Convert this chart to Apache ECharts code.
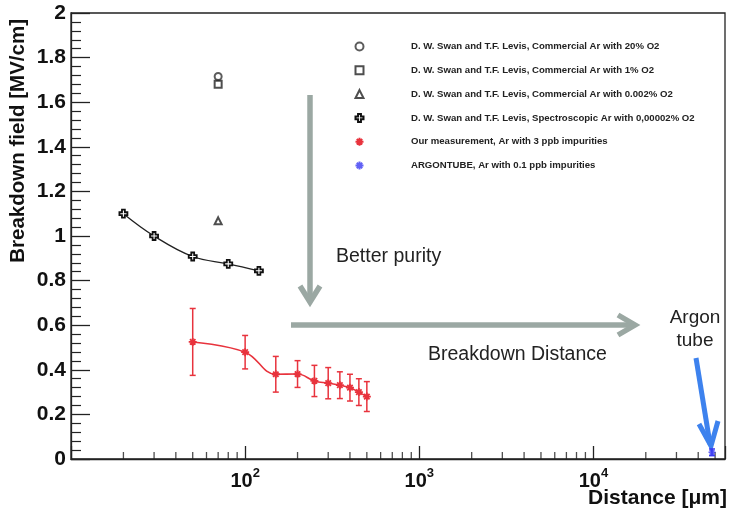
<!DOCTYPE html>
<html>
<head>
<meta charset="utf-8">
<script src="https://cdn.jsdelivr.net/npm/echarts@6/dist/echarts.min.js"></script>
<style>
html,body{margin:0;padding:0;background:#fff;}
#c{width:730px;height:515px;}
</style>
</head>
<body>
<div id="c"></div>
<script>
// ---- data ----
const legendNames = [
  'D. W. Swan and T.F. Levis, Commercial Ar with 20% O2',
  'D. W. Swan and T.F. Levis, Commercial Ar with 1% O2',
  'D. W. Swan and T.F. Levis, Commercial Ar with 0.002% O2',
  'D. W. Swan and T.F. Levis, Spectroscopic Ar with 0,00002% O2',
  'Our measurement, Ar with 3 ppb impurities',
  'ARGONTUBE, Ar with 0.1 ppb impurities'
];
const swan20X = [70], swan20Y = [1.715];
const swan1X = [70], swan1Y = [1.68];
const swan0002X = [70], swan0002Y = [1.068];
const spectroX = [20, 30, 50, 80, 120];
const spectroY = [1.10, 1.00, 0.908, 0.875, 0.844];
const ourX = [50, 100, 150, 200, 250, 300, 350, 400, 450, 500];
const ourY = [0.525, 0.479, 0.38, 0.381, 0.35, 0.34, 0.331, 0.32, 0.30, 0.28];
const ourErr = [0.15, 0.075, 0.08, 0.06, 0.07, 0.07, 0.06, 0.06, 0.06, 0.067];
const tubeX = [48000], tubeY = [0.03], tubeErr = [0.015];
const xMajorLabels = ['10', '2', '10', '3', '10', '4']; // base, exponent pairs for 10^2,10^3,10^4
const xMinorTicks = [20, 30, 40, 50, 60, 70, 80, 90, 200, 300, 400, 500, 600, 700, 800, 900,
  2000, 3000, 4000, 5000, 6000, 7000, 8000, 9000, 20000, 30000, 40000, 50000];
const xMin = 10, xMax = 57000;
const yMin = 0, yMax = 2, yStep = 0.2;

// ---- helpers ----
const zip = (xs, ys) => xs.map((x, i) => [x, ys[i]]);
const RED = '#e8333d', BLUE = '#3a3af2', DARK = '#1a1a1a', GRAY = '#9ba8a3';
const FONT = 'Liberation Sans, Arial, Helvetica, sans-serif';
const asterisk = 'path://M5,0L5,10M0,5L10,5M1.6,1.6L8.4,8.4M1.6,8.4L8.4,1.6';
const plusPath = 'path://M3.2,0L6.8,0L6.8,3.2L10,3.2L10,6.8L6.8,6.8L6.8,10L3.2,10L3.2,6.8L0,6.8L0,3.2L3.2,3.2Z';

function errorSeries(xs, ys, es, color) {
  return {
    type: 'custom', silent: true, z: 3,
    data: xs.map((x, i) => [x, ys[i], ys[i] - es[i], ys[i] + es[i]]),
    renderItem: function (params, api) {
      const x = api.value(0);
      const lo = api.coord([x, api.value(2)]);
      const hi = api.coord([x, api.value(3)]);
      const st = { stroke: color, lineWidth: 1.5 };
      return { type: 'group', children: [
        { type: 'line', shape: { x1: lo[0], y1: lo[1], x2: hi[0], y2: hi[1] }, style: st },
        { type: 'line', shape: { x1: lo[0] - 3, y1: lo[1], x2: lo[0] + 3, y2: lo[1] }, style: st },
        { type: 'line', shape: { x1: hi[0] - 3, y1: hi[1], x2: hi[0] + 3, y2: hi[1] }, style: st }
      ]};
    }
  };
}

const expMap = {};
expMap[100] = 1; expMap[1000] = 2; expMap[10000] = 3;

const chart = echarts.init(document.getElementById('c'), null, { renderer: 'canvas' });
const option = {
  animation: false,
  backgroundColor: '#fff',
  textStyle: { fontFamily: FONT },
  grid: { left: 71, top: 13, right: 5, bottom: 56, show: true, borderColor: '#222', borderWidth: 1.3 },
  legend: {
    orient: 'vertical', left: 349.5, top: 35.5,
    itemWidth: 8, itemHeight: 8, itemGap: 11.8,
    textStyle: { fontFamily: FONT, fontWeight: 'bold', fontSize: 9.6, color: '#222', padding: [0, 0, 0, 42.5], lineHeight: 12 },
    data: [
      { name: legendNames[0], icon: 'emptyCircle' },
      { name: legendNames[1], icon: 'emptyRect' },
      { name: legendNames[2], icon: 'emptyTriangle' },
      { name: legendNames[3], icon: plusPath },
      { name: legendNames[4], icon: asterisk },
      { name: legendNames[5], icon: asterisk }
    ]
  },
  xAxis: {
    type: 'log', logBase: 10, min: xMin, max: xMax,
    axisLine: { show: true, lineStyle: { color: '#222', width: 1.3 } },
    axisTick: { show: true, inside: true, length: 13, lineStyle: { color: '#222', width: 1.3 } },
    splitLine: { show: false },
    axisLabel: {
      margin: 8, color: '#111',
      formatter: function (v) {
        const k = Math.round(Math.log10(v));
        const idx = expMap[Math.pow(10, k)];
        if (idx === undefined || Math.abs(Math.log10(v) - k) > 1e-6) return '';
        return '{b|' + xMajorLabels[(idx - 1) * 2] + '}{e|' + xMajorLabels[(idx - 1) * 2 + 1] + '}';
      },
      rich: {
        b: { fontFamily: FONT, fontWeight: 'bold', fontSize: 20, color: '#111', lineHeight: 24, verticalAlign: 'bottom' },
        e: { fontFamily: FONT, fontWeight: 'bold', fontSize: 13, color: '#111', lineHeight: 24, verticalAlign: 'top', padding: [0, 0, 9, 0] }
      }
    }
  },
  yAxis: {
    type: 'value', min: yMin, max: yMax, interval: yStep,
    axisLine: { show: true, lineStyle: { color: '#222', width: 1.3 } },
    axisTick: { show: true, inside: true, length: 19, lineStyle: { color: '#222', width: 1.3 } },
    minorTick: { show: true, splitNumber: 5, length: 10, lineStyle: { color: '#222', width: 1.2 } },
    splitLine: { show: false },
    axisLabel: { margin: 5, fontFamily: FONT, fontWeight: 'bold', fontSize: 21, color: '#111' }
  },
  series: [
    { name: legendNames[0], type: 'scatter', data: zip(swan20X, swan20Y), symbol: 'emptyCircle', symbolSize: 7,
      itemStyle: { color: '#333', borderWidth: 1.2 } },
    { name: legendNames[1], type: 'scatter', data: zip(swan1X, swan1Y), symbol: 'emptyRect', symbolSize: 7,
      itemStyle: { color: '#222', borderWidth: 1.4 } },
    { name: legendNames[2], type: 'scatter', data: zip(swan0002X, swan0002Y), symbol: 'emptyTriangle', symbolSize: 7,
      itemStyle: { color: '#222', borderWidth: 1.4 } },
    { name: legendNames[3], type: 'line', smooth: 0.4, data: zip(spectroX, spectroY), symbol: plusPath, symbolSize: 8,
      showAllSymbol: true,
      lineStyle: { color: '#222', width: 1.3 },
      itemStyle: { color: '#fff', borderColor: '#111', borderWidth: 1.8 }, z: 4 },
    errorSeries(ourX, ourY, ourErr, RED),
    { name: legendNames[4], type: 'line', smooth: 0.4, data: zip(ourX, ourY), symbol: asterisk, symbolSize: 8,
      showAllSymbol: true,
      lineStyle: { color: RED, width: 1.6 },
      itemStyle: { color: RED, borderColor: RED, borderWidth: 1.8 }, z: 4 },
    errorSeries(tubeX, tubeY, tubeErr, BLUE),
    { name: legendNames[5], type: 'scatter', data: zip(tubeX, tubeY), symbol: asterisk, symbolSize: 7,
      itemStyle: { color: BLUE, borderColor: BLUE, borderWidth: 1.6 }, z: 4 },
    { name: 'minorTicks', type: 'scatter', silent: true, data: xMinorTicks.map(v => [v, yMin]),
      symbol: 'rect', symbolSize: [1.3, 7], symbolOffset: [0, -3.5],
      itemStyle: { color: '#222' }, z: 1 }
  ],
  graphic: [
    { type: 'text', x: 18, y: 19, rotation: Math.PI / 2,
      style: { text: 'Breakdown field [MV/cm]', font: 'bold 20.5px ' + FONT, fill: '#111', align: 'right', verticalAlign: 'middle' } },
    { type: 'text', x: 727, y: 498,
      style: { text: 'Distance [μm]', font: 'bold 21px ' + FONT, fill: '#111', align: 'right', verticalAlign: 'middle' } },
    // vertical gray arrow
    { type: 'polyline', shape: { points: [[310, 95], [310, 301]] }, style: { stroke: GRAY, lineWidth: 5.5, fill: null } },
    { type: 'polyline', shape: { points: [[300, 286], [310, 302], [320, 286]] }, style: { stroke: GRAY, lineWidth: 5.5, fill: null, lineJoin: 'miter' } },
    // horizontal gray arrow
    { type: 'polyline', shape: { points: [[291, 325], [634, 325]] }, style: { stroke: GRAY, lineWidth: 5.5, fill: null } },
    { type: 'polyline', shape: { points: [[618, 315], [635, 325], [618, 335]] }, style: { stroke: GRAY, lineWidth: 5.5, fill: null, lineJoin: 'miter' } },
    { type: 'text', x: 336, y: 257, style: { text: 'Better purity', font: '19.5px ' + FONT, fill: '#222', verticalAlign: 'middle' } },
    { type: 'text', x: 428, y: 355, style: { text: 'Breakdown Distance', font: '19.5px ' + FONT, fill: '#222', verticalAlign: 'middle' } },
    { type: 'text', x: 695, y: 318, style: { text: 'Argon', font: '19px ' + FONT, fill: '#222', align: 'center', verticalAlign: 'middle' } },
    { type: 'text', x: 695, y: 341, style: { text: 'tube', font: '19px ' + FONT, fill: '#222', align: 'center', verticalAlign: 'middle' } },
    // blue arrow
    { type: 'polyline', shape: { points: [[696, 358], [710, 444]] }, style: { stroke: '#3d82ee', lineWidth: 5, fill: null } },
    { type: 'polyline', shape: { points: [[699, 424], [711, 446], [718, 421]] }, style: { stroke: '#3d82ee', lineWidth: 5, fill: null, lineJoin: 'miter' } }
  ]
};
chart.setOption(option);
</script>
</body>
</html>
